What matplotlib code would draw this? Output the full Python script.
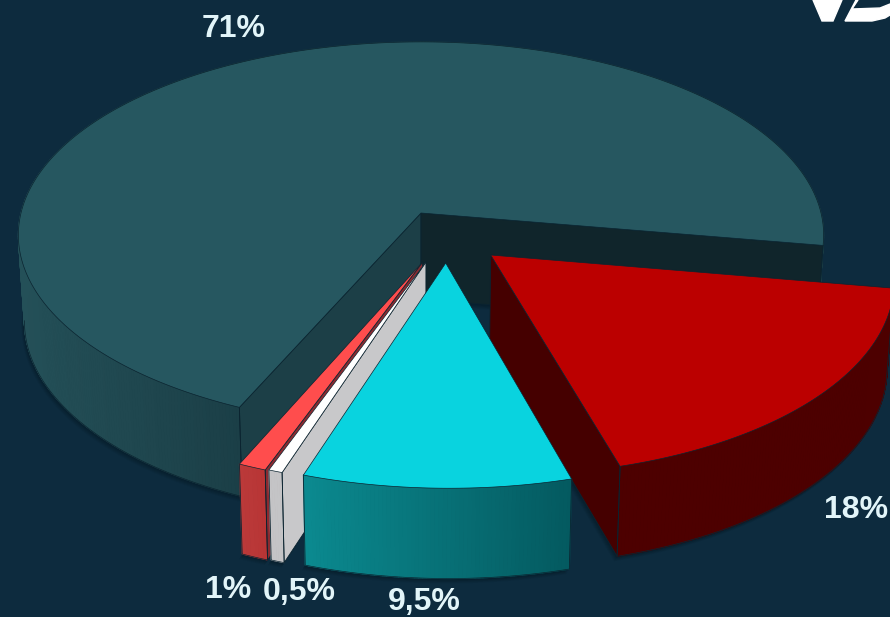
import numpy as np
from matplotlib import pyplot as plt
from matplotlib.colors import to_rgb
from matplotlib.patches import Polygon

labels = ['71%', '18%', '9,5%', '0,5%', '1%']
shares = [71, 18, 9.5, 0.5, 1]

top_colors = ['#265760', '#bb0000', '#09d3df', '#ffffff', '#ff4d4d']
wall_left = ['#245058', '#4d0000', '#0b8a90', '#c4c4c6', '#bb3a3a']
wall_right = ['#1b3f47', '#4d0000', '#045a60', '#c4c4c6', '#b83535']
cut_start = ['#1c3f47', None, None, '#c8c8ca', '#8a2a30']
cut_end = ['#10252b', '#450000', None, None, None]

# how far each slice is pulled out, in units of the pie radius
explode_x = [0, 0.17, 0.06, 0.012, 0.004]
explode_y = [0, 0.215, 0.255, 0.25, 0.25]
radius = [1, 0.975, 0.985, 0.98, 0.98]

label_x = [234, 856, 424, 299, 228]
label_y = [29, 510, 602, 592, 590]

BG = '#0d2b3e'
CX, CY = 421, 213
A, B, K = 400, 190.6, 0.114
DEPTH = 86
START = 114


def top_point(x, y):
    w = 1 - K * y
    return CX + A * x / w, CY + B * y / w


def bottom_point(x, y):
    sx, sy = top_point(x, y)
    return CX + (sx - CX) * 0.985, sy + DEPTH * (1 + 0.04 * y)


def rim(theta, r, ox, oy):
    t = np.radians(theta)
    return r * np.cos(t) + ox, r * np.sin(t) + oy


def face(ax, pts, color, z, lw=0.6):
    ax.add_patch(Polygon(pts, closed=True, facecolor=color, edgecolor='#0b2430',
                         linewidth=lw, zorder=z, joinstyle='round'))


def draw_slice(ax, i, a0, a1, z):
    ox, oy, r = explode_x[i], explode_y[i], radius[i]
    thetas = np.linspace(a0, a1, max(int((a1 - a0) * 2), 6))
    xs, ys = rim(thetas, r, ox, oy)
    tops = [top_point(x, y) for x, y in zip(xs, ys)]
    bots = [bottom_point(x, y) for x, y in zip(xs, ys)]
    apex_t = top_point(ox, oy)
    apex_b = bottom_point(ox, oy)

    # soft shadow below the block
    outline = bots + [apex_b]
    for n in range(6):
        shift = 2 + n * 1.6
        pts = [(px - shift * 0.3, py + shift * 0.5) for px, py in outline]
        ax.add_patch(Polygon(pts, closed=True, facecolor='black', edgecolor='none',
                             alpha=0.04, zorder=z))

    # outer wall, shaded along the screen x
    c0 = np.array(to_rgb(wall_left[i]))
    c1 = np.array(to_rgb(wall_right[i]))
    front = [k for k in range(len(tops)) if ys[k] - oy > 0.11 * r]
    lo = min(tops[k][0] for k in front)
    hi = max(tops[k][0] for k in front)
    if i == 0:
        hi = tops[0][0]
    for k in range(len(tops) - 1):
        f = np.clip((tops[k][0] - lo) / max(hi - lo, 1), 0, 1)
        col = c0 + (c1 - c0) * f
        ax.add_patch(Polygon([tops[k], tops[k + 1], bots[k + 1], bots[k]], closed=True,
                             facecolor=col, edgecolor=col, linewidth=0.8, zorder=z + 1))
    runs = np.split(np.array(front), np.where(np.diff(front) > 1)[0] + 1)
    for run in runs:
        ax.plot([bots[k][0] for k in run], [bots[k][1] for k in run],
                color='#0b2430', lw=0.5, zorder=z + 1.5)

    # visible cut faces
    if cut_start[i]:
        face(ax, [apex_t, tops[0], bots[0], apex_b], cut_start[i], z + 2)
    if cut_end[i]:
        face(ax, [apex_t, tops[-1], bots[-1], apex_b], cut_end[i], z + 2)
    for k in (0, -1):
        ax.plot([tops[k][0], bots[k][0]], [tops[k][1], bots[k][1]], color='#0b2430', lw=0.6, zorder=z + 3)

    face(ax, [apex_t] + tops, top_colors[i], z + 4, lw=0.5)


fig = plt.figure(figsize=(8.9, 6.17), dpi=100, facecolor=BG)
ax = fig.add_axes([0, 0, 1, 1])
ax.set_xlim(0, 890)
ax.set_ylim(617, 0)
ax.axis('off')

# slices run clockwise on screen from the lower left edge of the big one
angles = START + np.cumsum([0] + shares) * 3.6
order = [0, 1, 4, 3, 2]
for z, i in enumerate(order):
    draw_slice(ax, i, angles[i], angles[i + 1], 10 * (z + 1))

for text, x, y in zip(labels, label_x, label_y):
    ax.text(x, y, text, color='#e2f5f9', fontsize=23, fontweight='bold',
            family='Liberation Sans', ha='center', va='center', zorder=100)

# corner of the logo, cut off by the frame
ax.add_patch(Polygon([(813, 0), (822, 21), (833, 21), (842, 0)], closed=True, color='white', zorder=100))
ax.add_patch(Polygon([(856, 0), (845, 21), (872, 21), (885, 18), (890, 15), (890, 4), (880, 8),
                      (852, 9), (858, 0)], closed=True, color='white', zorder=100))

fig.savefig('out.png', dpi=100, facecolor=BG)
